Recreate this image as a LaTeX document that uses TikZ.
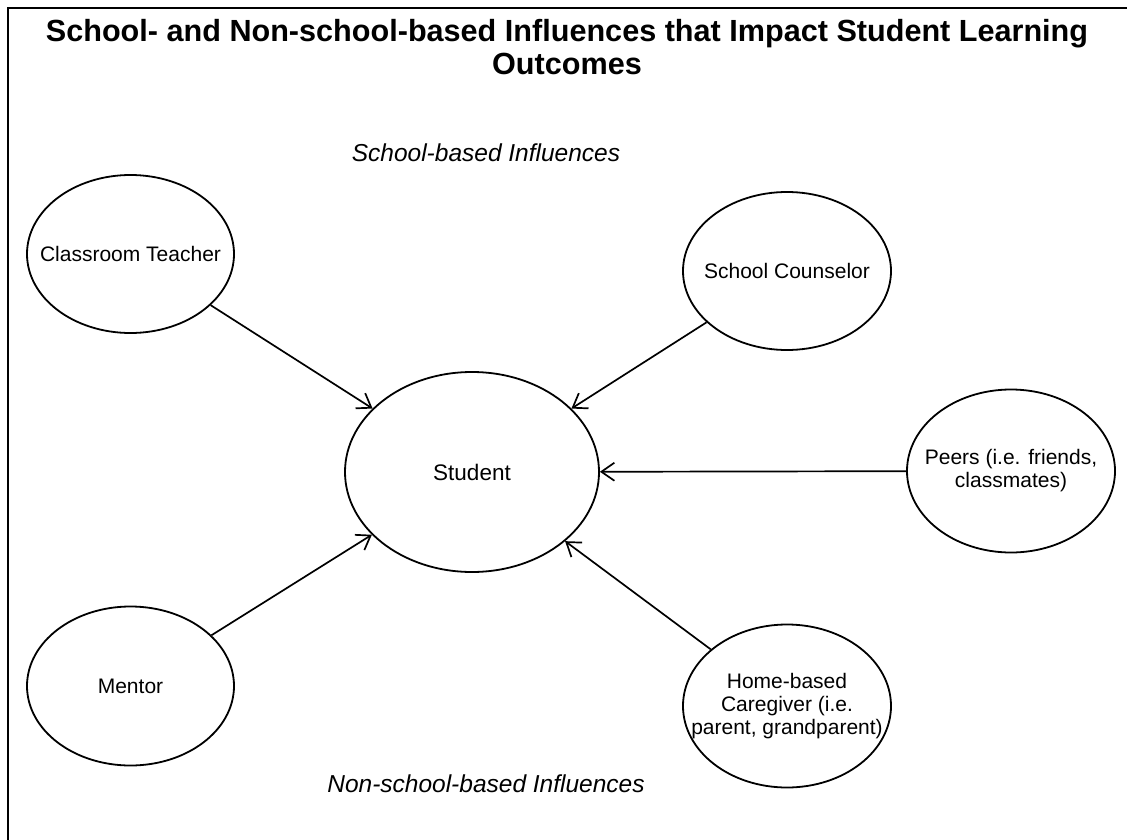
\documentclass[tikz,border=0pt]{standalone}
\usepackage{fontspec}
\setmainfont{Liberation Sans}
\usepackage{tikz}
\usetikzlibrary{arrows.meta,shapes.geometric}

\begin{document}
\begin{tikzpicture}[x=1pt,y=-1pt]
						\tikzstyle{influence}=[ellipse,draw=black,line width=1.8pt,inner sep=0pt]
						\tikzstyle{inside}=[align=center,font=\fontsize{21}{23}\selectfont]
						\tikzstyle{arrow}=[line width=1.7pt,-{Straight Barb[length=13pt,width=18pt,line width=1.7pt]}]
						\tikzstyle{caption}=[font=\fontsize{24.5}{28}\selectfont\itshape]
						\useasboundingbox (0,0) rectangle (1127,840);
						\draw[line width=1.8pt] (8,840) -- (8,8) -- (1127,8);
						\node[align=center,font=\fontsize{30.6}{33}\selectfont\bfseries] (title) at (567,47) {School- and Non-school-based Influences that Impact Student Learning\\Outcomes};
						\node[caption] (school) at (486,153) {School-based Influences};
						\node[caption] (nonschool) at (486,784) {Non-school-based Influences};
						\node[influence,minimum width=254pt,minimum height=200pt,label={[inside,font=\fontsize{22.5}{25}\selectfont]center:Student}] (student) at (472,472) {};
						\node[influence,minimum width=207pt,minimum height=158pt,label={[inside]center:Classroom Teacher}] (teacher) at (130.5,254) {};
						\node[influence,minimum width=208pt,minimum height=158pt,label={[inside]center:School Counselor}] (counselor) at (787,271) {};
						\node[influence,minimum width=208pt,minimum height=163pt,label={[inside]center:{Peers (i.e. friends,\\classmates)}}] (peers) at (1011,471) {};
						\node[influence,minimum width=207pt,minimum height=159pt,label={[inside]center:Mentor}] (mentor) at (130.5,686) {};
						\node[influence,minimum width=208pt,minimum height=163pt,label={[inside]center:{Home-based\\Caregiver (i.e.\\parent, grandparent)}}] (home) at (787,706) {};
						\draw[arrow] (teacher) -- (student);
						\draw[arrow] (counselor) -- (student);
						\draw[arrow] (peers) -- (student);
						\draw[arrow] (mentor) -- (student);
						\draw[arrow] (home) -- (student);
						\end{tikzpicture}
\end{document}
